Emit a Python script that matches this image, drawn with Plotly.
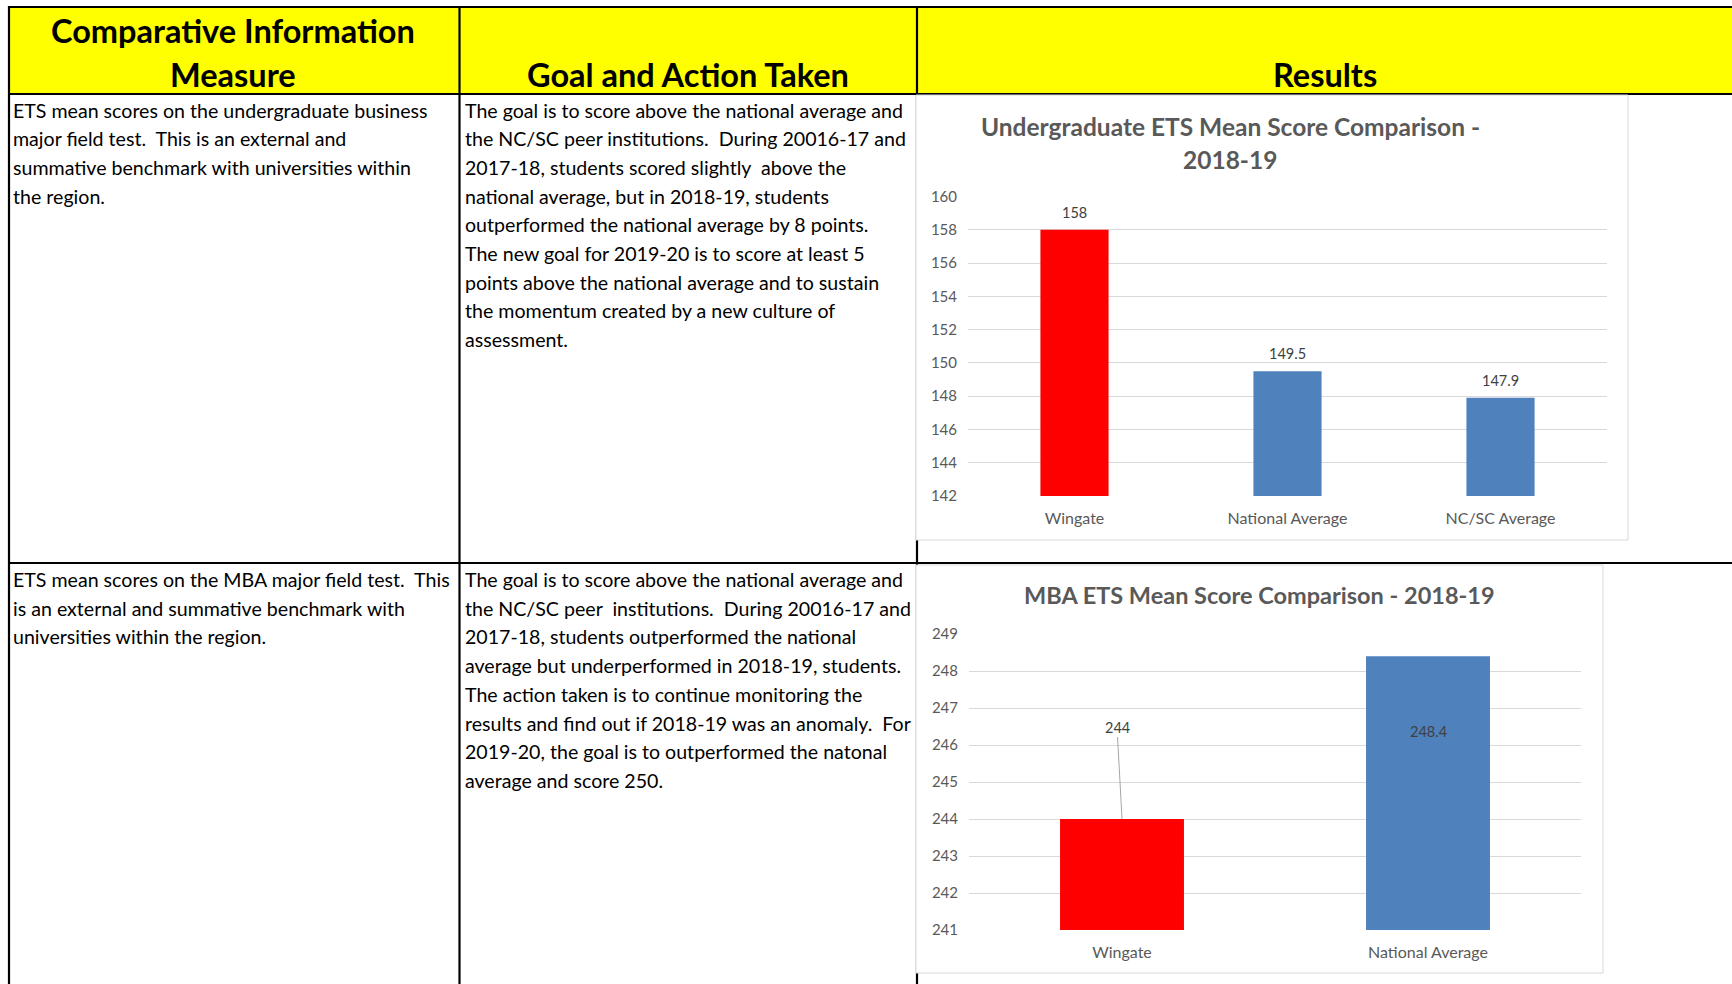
import plotly.graph_objects as go

W, H = 1732, 984

# ---------------- data ----------------
header_measure = ["Comparative Information", "Measure"]
header_goal = "Goal and Action Taken"
header_results = "Results"

row1_measure = [
    "ETS mean scores on the undergraduate business",
    "major field test.  This is an external and",
    "summative benchmark with universities within",
    "the region.",
]
row1_goal = [
    "The goal is to score above the national average and",
    "the NC/SC peer institutions.  During 20016-17 and",
    "2017-18, students scored slightly  above the",
    "national average, but in 2018-19, students",
    "outperformed the national average by 8 points.",
    "The new goal for 2019-20 is to score at least 5",
    "points above the national average and to sustain",
    "the momentum created by a new culture of",
    "assessment.",
]
row2_measure = [
    "ETS mean scores on the MBA major field test.  This",
    "is an external and summative benchmark with",
    "universities within the region.",
]
row2_goal = [
    "The goal is to score above the national average and",
    "the NC/SC peer  institutions.  During 20016-17 and",
    "2017-18, students outperformed the national",
    "average but underperformed in 2018-19, students.",
    "The action taken is to continue monitoring the",
    "results and find out if 2018-19 was an anomaly.  For",
    "2019-20, the goal is to outperformed the natonal",
    "average and score 250.",
]

ug_title = ["Undergraduate ETS Mean Score Comparison -", "2018-19"]
ug_categories = ["Wingate", "National Average", "NC/SC Average"]
ug_values = [158, 149.5, 147.9]
ug_ticks = [142, 144, 146, 148, 150, 152, 154, 156, 158, 160]

mba_title = "MBA ETS Mean Score Comparison - 2018-19"
mba_categories = ["Wingate", "National Average"]
mba_values = [244, 248.4]
mba_ticks = [241, 242, 243, 244, 245, 246, 247, 248, 249]

# ---------------- style ----------------
RED = "#FF0000"
BLUE = "#4F81BD"
GRID = "#D9D9D9"
GRAYTXT = "#595959"
LBLTXT = "#404040"
FONT = "Lato, 'Open Sans', sans-serif"


def px(x):
    return x / W


def py(y):
    return 1 - y / H


fig = go.Figure()

fig.add_trace(go.Bar(
    x=ug_categories, y=ug_values, width=0.32,
    marker=dict(color=[RED, BLUE, BLUE], line=dict(width=0)),
    xaxis="x", yaxis="y", showlegend=False, hoverinfo="x+y",
))
fig.add_trace(go.Bar(
    x=mba_categories, y=mba_values, width=0.405,
    marker=dict(color=[RED, BLUE], line=dict(width=0)),
    xaxis="x2", yaxis="y2", showlegend=False, hoverinfo="x+y",
))

shapes = []
# yellow header
shapes.append(dict(type="rect", xref="paper", yref="paper",
                   x0=px(9), x1=px(W + 5), y0=py(94), y1=py(7),
                   fillcolor="#FFFF00", line=dict(width=0), layer="below"))
# table lines
LW = 2.2
def hline(y, x0, x1):
    shapes.append(dict(type="line", xref="paper", yref="paper", x0=px(x0), x1=px(x1),
                       y0=py(y), y1=py(y), line=dict(color="black", width=LW), layer="below"))
def vline(x, y0, y1):
    shapes.append(dict(type="line", xref="paper", yref="paper", x0=px(x), x1=px(x),
                       y0=py(y0), y1=py(y1), line=dict(color="black", width=LW), layer="below"))

hline(7, 8, W + 5)
hline(94, 8, W + 5)
hline(563, 8, W + 5)
vline(9, 6, H + 5)
vline(459.5, 6, H + 5)
vline(917, 6, H + 5)

# chart boxes (white, light border) covering the table lines
shapes.append(dict(type="rect", xref="paper", yref="paper",
                   x0=px(916), x1=px(1628), y0=py(540), y1=py(95),
                   fillcolor="white", line=dict(color=GRID, width=1), layer="below"))
shapes.append(dict(type="rect", xref="paper", yref="paper",
                   x0=px(916), x1=px(1603), y0=py(973), y1=py(565),
                   fillcolor="white", line=dict(color=GRID, width=1), layer="below"))

annotations = []

def txt(text, x, y, size, bold=False, color="black", xanchor="left", font=FONT):
    annotations.append(dict(
        text=("<b>%s</b>" % text) if bold else text,
        x=px(x), y=py(y), xref="paper", yref="paper",
        xanchor=xanchor, yanchor="middle", showarrow=False,
        font=dict(family=font, size=size, color=color),
    ))

HDR = 32.5
txt(header_measure[0], 233, 31, HDR, bold=True, xanchor="center")
txt(header_measure[1], 233, 75, HDR, bold=True, xanchor="center")
txt(header_goal, 688, 75, HDR, bold=True, xanchor="center")
txt(header_results, 1325, 75, HDR, bold=True, xanchor="center")

BODY = 19.6
LINE = 28.7
for i, s in enumerate(row1_measure):
    txt(s, 11, 110 + i * LINE, BODY)
for i, s in enumerate(row1_goal):
    txt(s, 463, 110 + i * LINE, BODY)
for i, s in enumerate(row2_measure):
    txt(s, 11, 579.5 + i * LINE, BODY)
for i, s in enumerate(row2_goal):
    txt(s, 463, 579.5 + i * LINE, BODY)

# chart titles
txt(ug_title[0], 1230, 127, 24.5, bold=True, color=GRAYTXT, xanchor="center")
txt(ug_title[1], 1230, 159, 24.5, bold=True, color=GRAYTXT, xanchor="center")
txt(mba_title, 1259, 595, 23.5, bold=True, color=GRAYTXT, xanchor="center")

LBL = 14.5
# data labels chart 1
for c, v in zip(ug_categories, ug_values):
    annotations.append(dict(text=str(v), x=c, y=v, xref="x", yref="y",
                            xanchor="center", yanchor="bottom", yshift=7,
                            showarrow=False, font=dict(family=FONT, size=LBL, color=LBLTXT)))
# data labels chart 2
annotations.append(dict(text=str(mba_values[0]), x=mba_categories[0], y=mba_values[0],
                        xref="x2", yref="y2", showarrow=True, arrowhead=0,
                        arrowwidth=1, arrowcolor="#A6A6A6", ax=-5, ay=-92,
                        standoff=0, font=dict(family=FONT, size=LBL, color=LBLTXT)))
annotations.append(dict(text=str(mba_values[1]), x=mba_categories[1], y=mba_values[1],
                        xref="x2", yref="y2", yshift=-75, showarrow=False,
                        xanchor="center", yanchor="middle",
                        font=dict(family=FONT, size=LBL, color=LBLTXT)))

xcommon = dict(showline=False, zeroline=False, ticks="", automargin=False, showgrid=False,
               ticklabelstandoff=11, tickfont=dict(family=FONT, size=16, color=GRAYTXT))
ycommon = dict(showline=False, zeroline=False, ticks="", automargin=False, showgrid=True,
               gridcolor=GRID, gridwidth=1, ticklabelstandoff=10,
               tickfont=dict(family=FONT, size=15, color=GRAYTXT))

fig.update_layout(
    template="none",
    width=W, height=H,
    margin=dict(l=0, r=0, t=0, b=0, pad=0, autoexpand=False),
    paper_bgcolor="white", plot_bgcolor="rgba(0,0,0,0)",
    showlegend=False,
    shapes=shapes, annotations=annotations,
    xaxis=dict(domain=[px(968), px(1607)], anchor="y", **xcommon),
    yaxis=dict(domain=[py(496), py(196.6)], anchor="x", range=[142, 160],
               tickvals=ug_ticks, **ycommon),
    xaxis2=dict(domain=[px(969), px(1581)], anchor="y2", **xcommon),
    yaxis2=dict(domain=[py(930), py(634)], anchor="x2", range=[241, 249],
                tickvals=mba_ticks, **ycommon),
)

fig.write_html("out.html", config={"displayModeBar": False},
               post_script="document.body.style.margin='0px';")
